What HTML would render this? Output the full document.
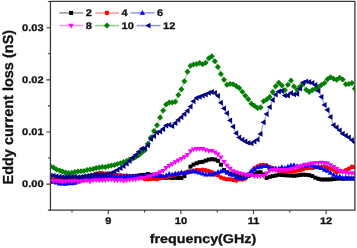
<!DOCTYPE html>
<html><head><meta charset="utf-8"><title>Eddy current loss</title>
<style>html,body{margin:0;padding:0;background:#fff}body{width:357px;height:248px;overflow:hidden}text{text-rendering:geometricPrecision;stroke:#111;stroke-width:.3px;stroke-linejoin:round}</style>
</head><body>
<svg width="357" height="248" viewBox="0 0 357 248" style="display:block;filter:blur(0.35px)" font-family="Liberation Sans, Arial, sans-serif" font-weight="bold">
<rect width="357" height="248" fill="#fff"/>
<defs><clipPath id="c"><rect x="50.45" y="1.45" width="304.45" height="208.65"/></clipPath></defs>
<g clip-path="url(#c)">
<polyline points="50.5,180.3 53.5,179.8 56.5,179.8 59.6,179.7 62.6,179.5 65.7,179.5 68.7,179.4 71.8,179.0 74.8,179.3 77.9,179.2 80.9,178.9 83.9,178.8 87.0,178.8 90.0,178.6 93.1,178.5 96.1,178.2 99.2,178.4 102.2,178.2 105.3,178.1 108.3,177.7 111.3,178.0 114.4,177.7 117.4,177.4 120.5,177.6 123.5,177.2 126.6,176.8 129.6,176.9 132.7,176.2 135.7,176.2 138.7,175.5 141.8,175.0 144.8,174.8 147.9,174.1 150.9,174.8 154.0,174.7 157.0,175.3 160.1,176.1 163.1,177.7 166.1,177.8 169.2,177.6 172.2,177.9 175.3,177.8 178.3,178.0 181.4,177.9 184.4,176.1 187.5,172.1 190.5,166.6 193.5,164.6 196.6,163.2 199.6,162.2 202.7,161.8 205.7,160.6 208.8,159.6 211.8,159.2 214.9,159.5 217.9,160.8 220.9,164.7 224.0,170.1 227.0,172.3 230.1,173.5 233.1,174.2 236.2,174.8 239.2,175.8 242.3,176.5 245.3,176.5 248.3,176.0 251.4,174.6 254.4,173.5 257.5,172.5 260.5,172.2 263.6,174.4 266.6,177.9 269.7,176.8 272.7,176.1 275.7,175.5 278.8,174.8 281.8,175.0 284.9,175.2 287.9,175.4 291.0,175.6 294.0,175.8 297.1,175.4 300.1,175.0 303.1,174.7 306.2,174.8 309.2,175.2 312.3,176.1 315.3,177.7 318.4,178.8 321.4,179.5 324.5,179.5 327.5,179.5 330.5,179.4 333.6,179.1 336.6,178.7 339.7,178.5 342.7,178.8 345.8,178.6 348.8,178.5 351.9,178.6 354.9,178.7" fill="none" stroke="#000000" stroke-width="1.2" stroke-opacity="0.36"/>
<g><rect x="48.5" y="178.3" width="4.0" height="4.0" fill="#000000"/><rect x="51.5" y="177.8" width="4.0" height="4.0" fill="#000000"/><rect x="54.5" y="177.8" width="4.0" height="4.0" fill="#000000"/><rect x="57.6" y="177.7" width="4.0" height="4.0" fill="#000000"/><rect x="60.6" y="177.5" width="4.0" height="4.0" fill="#000000"/><rect x="63.7" y="177.5" width="4.0" height="4.0" fill="#000000"/><rect x="66.7" y="177.4" width="4.0" height="4.0" fill="#000000"/><rect x="69.8" y="177.0" width="4.0" height="4.0" fill="#000000"/><rect x="72.8" y="177.3" width="4.0" height="4.0" fill="#000000"/><rect x="75.9" y="177.2" width="4.0" height="4.0" fill="#000000"/><rect x="78.9" y="176.9" width="4.0" height="4.0" fill="#000000"/><rect x="81.9" y="176.8" width="4.0" height="4.0" fill="#000000"/><rect x="85.0" y="176.8" width="4.0" height="4.0" fill="#000000"/><rect x="88.0" y="176.6" width="4.0" height="4.0" fill="#000000"/><rect x="91.1" y="176.5" width="4.0" height="4.0" fill="#000000"/><rect x="94.1" y="176.2" width="4.0" height="4.0" fill="#000000"/><rect x="97.2" y="176.4" width="4.0" height="4.0" fill="#000000"/><rect x="100.2" y="176.2" width="4.0" height="4.0" fill="#000000"/><rect x="103.3" y="176.1" width="4.0" height="4.0" fill="#000000"/><rect x="106.3" y="175.7" width="4.0" height="4.0" fill="#000000"/><rect x="109.3" y="176.0" width="4.0" height="4.0" fill="#000000"/><rect x="112.4" y="175.7" width="4.0" height="4.0" fill="#000000"/><rect x="115.4" y="175.4" width="4.0" height="4.0" fill="#000000"/><rect x="118.5" y="175.6" width="4.0" height="4.0" fill="#000000"/><rect x="121.5" y="175.2" width="4.0" height="4.0" fill="#000000"/><rect x="124.6" y="174.8" width="4.0" height="4.0" fill="#000000"/><rect x="127.6" y="174.9" width="4.0" height="4.0" fill="#000000"/><rect x="130.7" y="174.2" width="4.0" height="4.0" fill="#000000"/><rect x="133.7" y="174.2" width="4.0" height="4.0" fill="#000000"/><rect x="136.7" y="173.5" width="4.0" height="4.0" fill="#000000"/><rect x="139.8" y="173.0" width="4.0" height="4.0" fill="#000000"/><rect x="142.8" y="172.8" width="4.0" height="4.0" fill="#000000"/><rect x="145.9" y="172.1" width="4.0" height="4.0" fill="#000000"/><rect x="148.9" y="172.8" width="4.0" height="4.0" fill="#000000"/><rect x="152.0" y="172.7" width="4.0" height="4.0" fill="#000000"/><rect x="155.0" y="173.3" width="4.0" height="4.0" fill="#000000"/><rect x="158.1" y="174.1" width="4.0" height="4.0" fill="#000000"/><rect x="161.1" y="175.7" width="4.0" height="4.0" fill="#000000"/><rect x="164.1" y="175.8" width="4.0" height="4.0" fill="#000000"/><rect x="167.2" y="175.6" width="4.0" height="4.0" fill="#000000"/><rect x="170.2" y="175.9" width="4.0" height="4.0" fill="#000000"/><rect x="173.3" y="175.8" width="4.0" height="4.0" fill="#000000"/><rect x="176.3" y="176.0" width="4.0" height="4.0" fill="#000000"/><rect x="179.4" y="175.9" width="4.0" height="4.0" fill="#000000"/><rect x="182.4" y="174.1" width="4.0" height="4.0" fill="#000000"/><rect x="185.5" y="170.1" width="4.0" height="4.0" fill="#000000"/><rect x="188.5" y="164.6" width="4.0" height="4.0" fill="#000000"/><rect x="191.5" y="162.6" width="4.0" height="4.0" fill="#000000"/><rect x="194.6" y="161.2" width="4.0" height="4.0" fill="#000000"/><rect x="197.6" y="160.2" width="4.0" height="4.0" fill="#000000"/><rect x="200.7" y="159.8" width="4.0" height="4.0" fill="#000000"/><rect x="203.7" y="158.6" width="4.0" height="4.0" fill="#000000"/><rect x="206.8" y="157.6" width="4.0" height="4.0" fill="#000000"/><rect x="209.8" y="157.2" width="4.0" height="4.0" fill="#000000"/><rect x="212.9" y="157.5" width="4.0" height="4.0" fill="#000000"/><rect x="215.9" y="158.8" width="4.0" height="4.0" fill="#000000"/><rect x="218.9" y="162.7" width="4.0" height="4.0" fill="#000000"/><rect x="222.0" y="168.1" width="4.0" height="4.0" fill="#000000"/><rect x="225.0" y="170.3" width="4.0" height="4.0" fill="#000000"/><rect x="228.1" y="171.5" width="4.0" height="4.0" fill="#000000"/><rect x="231.1" y="172.2" width="4.0" height="4.0" fill="#000000"/><rect x="234.2" y="172.8" width="4.0" height="4.0" fill="#000000"/><rect x="237.2" y="173.8" width="4.0" height="4.0" fill="#000000"/><rect x="240.3" y="174.5" width="4.0" height="4.0" fill="#000000"/><rect x="243.3" y="174.5" width="4.0" height="4.0" fill="#000000"/><rect x="246.3" y="174.0" width="4.0" height="4.0" fill="#000000"/><rect x="249.4" y="172.6" width="4.0" height="4.0" fill="#000000"/><rect x="252.4" y="171.5" width="4.0" height="4.0" fill="#000000"/><rect x="255.5" y="170.5" width="4.0" height="4.0" fill="#000000"/><rect x="258.5" y="170.2" width="4.0" height="4.0" fill="#000000"/><rect x="261.6" y="172.4" width="4.0" height="4.0" fill="#000000"/><rect x="264.6" y="175.9" width="4.0" height="4.0" fill="#000000"/><rect x="267.7" y="174.8" width="4.0" height="4.0" fill="#000000"/><rect x="270.7" y="174.1" width="4.0" height="4.0" fill="#000000"/><rect x="273.7" y="173.5" width="4.0" height="4.0" fill="#000000"/><rect x="276.8" y="172.8" width="4.0" height="4.0" fill="#000000"/><rect x="279.8" y="173.0" width="4.0" height="4.0" fill="#000000"/><rect x="282.9" y="173.2" width="4.0" height="4.0" fill="#000000"/><rect x="285.9" y="173.4" width="4.0" height="4.0" fill="#000000"/><rect x="289.0" y="173.6" width="4.0" height="4.0" fill="#000000"/><rect x="292.0" y="173.8" width="4.0" height="4.0" fill="#000000"/><rect x="295.1" y="173.4" width="4.0" height="4.0" fill="#000000"/><rect x="298.1" y="173.0" width="4.0" height="4.0" fill="#000000"/><rect x="301.1" y="172.7" width="4.0" height="4.0" fill="#000000"/><rect x="304.2" y="172.8" width="4.0" height="4.0" fill="#000000"/><rect x="307.2" y="173.2" width="4.0" height="4.0" fill="#000000"/><rect x="310.3" y="174.1" width="4.0" height="4.0" fill="#000000"/><rect x="313.3" y="175.7" width="4.0" height="4.0" fill="#000000"/><rect x="316.4" y="176.8" width="4.0" height="4.0" fill="#000000"/><rect x="319.4" y="177.5" width="4.0" height="4.0" fill="#000000"/><rect x="322.5" y="177.5" width="4.0" height="4.0" fill="#000000"/><rect x="325.5" y="177.5" width="4.0" height="4.0" fill="#000000"/><rect x="328.5" y="177.4" width="4.0" height="4.0" fill="#000000"/><rect x="331.6" y="177.1" width="4.0" height="4.0" fill="#000000"/><rect x="334.6" y="176.7" width="4.0" height="4.0" fill="#000000"/><rect x="337.7" y="176.5" width="4.0" height="4.0" fill="#000000"/><rect x="340.7" y="176.8" width="4.0" height="4.0" fill="#000000"/><rect x="343.8" y="176.6" width="4.0" height="4.0" fill="#000000"/><rect x="346.8" y="176.5" width="4.0" height="4.0" fill="#000000"/><rect x="349.9" y="176.6" width="4.0" height="4.0" fill="#000000"/><rect x="352.9" y="176.7" width="4.0" height="4.0" fill="#000000"/></g>
<polyline points="50.5,180.6 53.5,180.6 56.5,180.1 59.6,180.6 62.6,180.3 65.7,182.6 68.7,180.5 71.8,180.9 74.8,180.1 77.9,180.1 80.9,180.2 83.9,180.3 87.0,179.2 90.0,177.1 93.1,175.8 96.1,173.7 99.2,173.4 102.2,173.2 105.3,173.8 108.3,173.5 111.3,174.2 114.4,175.2 117.4,175.2 120.5,175.3 123.5,175.7 126.6,175.8 129.6,176.3 132.7,176.8 135.7,176.8 138.7,176.7 141.8,177.9 144.8,179.1 147.9,179.3 150.9,179.0 154.0,178.8 157.0,179.1 160.1,178.2 163.1,177.4 166.1,177.2 169.2,176.0 172.2,175.7 175.3,174.7 178.3,173.9 181.4,173.3 184.4,173.0 187.5,172.4 190.5,171.6 193.5,171.1 196.6,170.1 199.6,170.4 202.7,169.8 205.7,170.4 208.8,171.1 211.8,172.2 214.9,174.4 217.9,175.2 220.9,177.5 224.0,178.6 227.0,179.3 230.1,179.2 233.1,179.9 236.2,180.4 239.2,179.2 242.3,179.5 245.3,178.4 248.3,174.6 251.4,171.8 254.4,168.2 257.5,166.5 260.5,165.2 263.6,165.1 266.6,165.6 269.7,167.2 272.7,168.3 275.7,169.5 278.8,170.6 281.8,171.0 284.9,170.7 287.9,171.7 291.0,171.4 294.0,171.2 297.1,170.6 300.1,170.3 303.1,169.3 306.2,168.2 309.2,167.8 312.3,168.0 315.3,167.3 318.4,167.3 321.4,167.0 324.5,166.6 327.5,167.9 330.5,168.8 333.6,169.8 336.6,172.2 339.7,171.3 342.7,171.5 345.8,170.4 348.8,168.7 351.9,166.9 354.9,167.2" fill="none" stroke="#ff0000" stroke-width="1.2" stroke-opacity="0.36"/>
<g><circle cx="50.5" cy="180.6" r="2.3" fill="#ff0000"/><circle cx="53.5" cy="180.6" r="2.3" fill="#ff0000"/><circle cx="56.5" cy="180.1" r="2.3" fill="#ff0000"/><circle cx="59.6" cy="180.6" r="2.3" fill="#ff0000"/><circle cx="62.6" cy="180.3" r="2.3" fill="#ff0000"/><circle cx="65.7" cy="182.6" r="2.3" fill="#ff0000"/><circle cx="68.7" cy="180.5" r="2.3" fill="#ff0000"/><circle cx="71.8" cy="180.9" r="2.3" fill="#ff0000"/><circle cx="74.8" cy="180.1" r="2.3" fill="#ff0000"/><circle cx="77.9" cy="180.1" r="2.3" fill="#ff0000"/><circle cx="80.9" cy="180.2" r="2.3" fill="#ff0000"/><circle cx="83.9" cy="180.3" r="2.3" fill="#ff0000"/><circle cx="87.0" cy="179.2" r="2.3" fill="#ff0000"/><circle cx="90.0" cy="177.1" r="2.3" fill="#ff0000"/><circle cx="93.1" cy="175.8" r="2.3" fill="#ff0000"/><circle cx="96.1" cy="173.7" r="2.3" fill="#ff0000"/><circle cx="99.2" cy="173.4" r="2.3" fill="#ff0000"/><circle cx="102.2" cy="173.2" r="2.3" fill="#ff0000"/><circle cx="105.3" cy="173.8" r="2.3" fill="#ff0000"/><circle cx="108.3" cy="173.5" r="2.3" fill="#ff0000"/><circle cx="111.3" cy="174.2" r="2.3" fill="#ff0000"/><circle cx="114.4" cy="175.2" r="2.3" fill="#ff0000"/><circle cx="117.4" cy="175.2" r="2.3" fill="#ff0000"/><circle cx="120.5" cy="175.3" r="2.3" fill="#ff0000"/><circle cx="123.5" cy="175.7" r="2.3" fill="#ff0000"/><circle cx="126.6" cy="175.8" r="2.3" fill="#ff0000"/><circle cx="129.6" cy="176.3" r="2.3" fill="#ff0000"/><circle cx="132.7" cy="176.8" r="2.3" fill="#ff0000"/><circle cx="135.7" cy="176.8" r="2.3" fill="#ff0000"/><circle cx="138.7" cy="176.7" r="2.3" fill="#ff0000"/><circle cx="141.8" cy="177.9" r="2.3" fill="#ff0000"/><circle cx="144.8" cy="179.1" r="2.3" fill="#ff0000"/><circle cx="147.9" cy="179.3" r="2.3" fill="#ff0000"/><circle cx="150.9" cy="179.0" r="2.3" fill="#ff0000"/><circle cx="154.0" cy="178.8" r="2.3" fill="#ff0000"/><circle cx="157.0" cy="179.1" r="2.3" fill="#ff0000"/><circle cx="160.1" cy="178.2" r="2.3" fill="#ff0000"/><circle cx="163.1" cy="177.4" r="2.3" fill="#ff0000"/><circle cx="166.1" cy="177.2" r="2.3" fill="#ff0000"/><circle cx="169.2" cy="176.0" r="2.3" fill="#ff0000"/><circle cx="172.2" cy="175.7" r="2.3" fill="#ff0000"/><circle cx="175.3" cy="174.7" r="2.3" fill="#ff0000"/><circle cx="178.3" cy="173.9" r="2.3" fill="#ff0000"/><circle cx="181.4" cy="173.3" r="2.3" fill="#ff0000"/><circle cx="184.4" cy="173.0" r="2.3" fill="#ff0000"/><circle cx="187.5" cy="172.4" r="2.3" fill="#ff0000"/><circle cx="190.5" cy="171.6" r="2.3" fill="#ff0000"/><circle cx="193.5" cy="171.1" r="2.3" fill="#ff0000"/><circle cx="196.6" cy="170.1" r="2.3" fill="#ff0000"/><circle cx="199.6" cy="170.4" r="2.3" fill="#ff0000"/><circle cx="202.7" cy="169.8" r="2.3" fill="#ff0000"/><circle cx="205.7" cy="170.4" r="2.3" fill="#ff0000"/><circle cx="208.8" cy="171.1" r="2.3" fill="#ff0000"/><circle cx="211.8" cy="172.2" r="2.3" fill="#ff0000"/><circle cx="214.9" cy="174.4" r="2.3" fill="#ff0000"/><circle cx="217.9" cy="175.2" r="2.3" fill="#ff0000"/><circle cx="220.9" cy="177.5" r="2.3" fill="#ff0000"/><circle cx="224.0" cy="178.6" r="2.3" fill="#ff0000"/><circle cx="227.0" cy="179.3" r="2.3" fill="#ff0000"/><circle cx="230.1" cy="179.2" r="2.3" fill="#ff0000"/><circle cx="233.1" cy="179.9" r="2.3" fill="#ff0000"/><circle cx="236.2" cy="180.4" r="2.3" fill="#ff0000"/><circle cx="239.2" cy="179.2" r="2.3" fill="#ff0000"/><circle cx="242.3" cy="179.5" r="2.3" fill="#ff0000"/><circle cx="245.3" cy="178.4" r="2.3" fill="#ff0000"/><circle cx="248.3" cy="174.6" r="2.3" fill="#ff0000"/><circle cx="251.4" cy="171.8" r="2.3" fill="#ff0000"/><circle cx="254.4" cy="168.2" r="2.3" fill="#ff0000"/><circle cx="257.5" cy="166.5" r="2.3" fill="#ff0000"/><circle cx="260.5" cy="165.2" r="2.3" fill="#ff0000"/><circle cx="263.6" cy="165.1" r="2.3" fill="#ff0000"/><circle cx="266.6" cy="165.6" r="2.3" fill="#ff0000"/><circle cx="269.7" cy="167.2" r="2.3" fill="#ff0000"/><circle cx="272.7" cy="168.3" r="2.3" fill="#ff0000"/><circle cx="275.7" cy="169.5" r="2.3" fill="#ff0000"/><circle cx="278.8" cy="170.6" r="2.3" fill="#ff0000"/><circle cx="281.8" cy="171.0" r="2.3" fill="#ff0000"/><circle cx="284.9" cy="170.7" r="2.3" fill="#ff0000"/><circle cx="287.9" cy="171.7" r="2.3" fill="#ff0000"/><circle cx="291.0" cy="171.4" r="2.3" fill="#ff0000"/><circle cx="294.0" cy="171.2" r="2.3" fill="#ff0000"/><circle cx="297.1" cy="170.6" r="2.3" fill="#ff0000"/><circle cx="300.1" cy="170.3" r="2.3" fill="#ff0000"/><circle cx="303.1" cy="169.3" r="2.3" fill="#ff0000"/><circle cx="306.2" cy="168.2" r="2.3" fill="#ff0000"/><circle cx="309.2" cy="167.8" r="2.3" fill="#ff0000"/><circle cx="312.3" cy="168.0" r="2.3" fill="#ff0000"/><circle cx="315.3" cy="167.3" r="2.3" fill="#ff0000"/><circle cx="318.4" cy="167.3" r="2.3" fill="#ff0000"/><circle cx="321.4" cy="167.0" r="2.3" fill="#ff0000"/><circle cx="324.5" cy="166.6" r="2.3" fill="#ff0000"/><circle cx="327.5" cy="167.9" r="2.3" fill="#ff0000"/><circle cx="330.5" cy="168.8" r="2.3" fill="#ff0000"/><circle cx="333.6" cy="169.8" r="2.3" fill="#ff0000"/><circle cx="336.6" cy="172.2" r="2.3" fill="#ff0000"/><circle cx="339.7" cy="171.3" r="2.3" fill="#ff0000"/><circle cx="342.7" cy="171.5" r="2.3" fill="#ff0000"/><circle cx="345.8" cy="170.4" r="2.3" fill="#ff0000"/><circle cx="348.8" cy="168.7" r="2.3" fill="#ff0000"/><circle cx="351.9" cy="166.9" r="2.3" fill="#ff0000"/><circle cx="354.9" cy="167.2" r="2.3" fill="#ff0000"/></g>
<polyline points="50.5,181.4 53.5,181.9 56.5,182.8 59.6,183.8 62.6,183.6 65.7,183.9 68.7,183.3 71.8,183.4 74.8,183.0 77.9,181.7 80.9,180.4 83.9,179.2 87.0,179.3 90.0,178.5 93.1,178.3 96.1,178.3 99.2,177.9 102.2,178.0 105.3,177.6 108.3,178.1 111.3,177.0 114.4,176.8 117.4,176.2 120.5,176.4 123.5,176.6 126.6,176.0 129.6,176.3 132.7,176.6 135.7,176.2 138.7,176.1 141.8,176.5 144.8,175.9 147.9,175.8 150.9,176.3 154.0,176.5 157.0,176.0 160.1,176.1 163.1,176.4 166.1,175.6 169.2,173.9 172.2,174.7 175.3,173.7 178.3,173.7 181.4,172.5 184.4,173.2 187.5,171.9 190.5,171.8 193.5,171.2 196.6,172.0 199.6,172.8 202.7,173.6 205.7,174.6 208.8,174.4 211.8,174.6 214.9,173.4 217.9,172.1 220.9,171.4 224.0,170.9 227.0,172.7 230.1,174.4 233.1,174.9 236.2,177.3 239.2,178.5 242.3,178.4 245.3,177.1 248.3,174.4 251.4,171.1 254.4,169.3 257.5,167.4 260.5,167.0 263.6,166.1 266.6,166.1 269.7,167.4 272.7,168.6 275.7,168.4 278.8,168.6 281.8,167.2 284.9,168.1 287.9,166.8 291.0,165.6 294.0,165.2 297.1,166.2 300.1,166.6 303.1,165.6 306.2,165.7 309.2,165.0 312.3,165.2 315.3,166.7 318.4,167.2 321.4,168.2 324.5,170.0 327.5,170.9 330.5,173.0 333.6,174.9 336.6,176.4 339.7,176.5 342.7,178.0 345.8,177.6 348.8,178.4 351.9,178.4 354.9,177.8" fill="none" stroke="#0000ff" stroke-width="1.2" stroke-opacity="0.36"/>
<g><path d="M47.8 183.2L53.2 183.2L50.5 178.4Z" fill="#0000ff"/><path d="M50.8 183.7L56.2 183.7L53.5 178.9Z" fill="#0000ff"/><path d="M53.8 184.6L59.2 184.6L56.5 179.8Z" fill="#0000ff"/><path d="M56.9 185.6L62.3 185.6L59.6 180.8Z" fill="#0000ff"/><path d="M59.9 185.4L65.3 185.4L62.6 180.6Z" fill="#0000ff"/><path d="M63.0 185.7L68.4 185.7L65.7 180.9Z" fill="#0000ff"/><path d="M66.0 185.1L71.4 185.1L68.7 180.3Z" fill="#0000ff"/><path d="M69.1 185.2L74.5 185.2L71.8 180.4Z" fill="#0000ff"/><path d="M72.1 184.8L77.5 184.8L74.8 180.0Z" fill="#0000ff"/><path d="M75.2 183.5L80.6 183.5L77.9 178.7Z" fill="#0000ff"/><path d="M78.2 182.2L83.6 182.2L80.9 177.4Z" fill="#0000ff"/><path d="M81.2 181.0L86.6 181.0L83.9 176.2Z" fill="#0000ff"/><path d="M84.3 181.1L89.7 181.1L87.0 176.3Z" fill="#0000ff"/><path d="M87.3 180.3L92.7 180.3L90.0 175.5Z" fill="#0000ff"/><path d="M90.4 180.1L95.8 180.1L93.1 175.3Z" fill="#0000ff"/><path d="M93.4 180.1L98.8 180.1L96.1 175.3Z" fill="#0000ff"/><path d="M96.5 179.7L101.9 179.7L99.2 174.9Z" fill="#0000ff"/><path d="M99.5 179.8L104.9 179.8L102.2 175.0Z" fill="#0000ff"/><path d="M102.6 179.4L108.0 179.4L105.3 174.6Z" fill="#0000ff"/><path d="M105.6 179.9L111.0 179.9L108.3 175.1Z" fill="#0000ff"/><path d="M108.6 178.8L114.0 178.8L111.3 174.0Z" fill="#0000ff"/><path d="M111.7 178.6L117.1 178.6L114.4 173.8Z" fill="#0000ff"/><path d="M114.7 178.0L120.1 178.0L117.4 173.2Z" fill="#0000ff"/><path d="M117.8 178.2L123.2 178.2L120.5 173.4Z" fill="#0000ff"/><path d="M120.8 178.4L126.2 178.4L123.5 173.6Z" fill="#0000ff"/><path d="M123.9 177.8L129.3 177.8L126.6 173.0Z" fill="#0000ff"/><path d="M126.9 178.1L132.3 178.1L129.6 173.3Z" fill="#0000ff"/><path d="M130.0 178.4L135.4 178.4L132.7 173.6Z" fill="#0000ff"/><path d="M133.0 178.0L138.4 178.0L135.7 173.2Z" fill="#0000ff"/><path d="M136.0 177.9L141.4 177.9L138.7 173.1Z" fill="#0000ff"/><path d="M139.1 178.3L144.5 178.3L141.8 173.5Z" fill="#0000ff"/><path d="M142.1 177.7L147.5 177.7L144.8 172.9Z" fill="#0000ff"/><path d="M145.2 177.6L150.6 177.6L147.9 172.8Z" fill="#0000ff"/><path d="M148.2 178.1L153.6 178.1L150.9 173.3Z" fill="#0000ff"/><path d="M151.3 178.3L156.7 178.3L154.0 173.5Z" fill="#0000ff"/><path d="M154.3 177.8L159.7 177.8L157.0 173.0Z" fill="#0000ff"/><path d="M157.4 177.9L162.8 177.9L160.1 173.1Z" fill="#0000ff"/><path d="M160.4 178.2L165.8 178.2L163.1 173.4Z" fill="#0000ff"/><path d="M163.4 177.4L168.8 177.4L166.1 172.6Z" fill="#0000ff"/><path d="M166.5 175.7L171.9 175.7L169.2 170.9Z" fill="#0000ff"/><path d="M169.5 176.5L174.9 176.5L172.2 171.7Z" fill="#0000ff"/><path d="M172.6 175.5L178.0 175.5L175.3 170.7Z" fill="#0000ff"/><path d="M175.6 175.5L181.0 175.5L178.3 170.7Z" fill="#0000ff"/><path d="M178.7 174.3L184.1 174.3L181.4 169.5Z" fill="#0000ff"/><path d="M181.7 175.0L187.1 175.0L184.4 170.2Z" fill="#0000ff"/><path d="M184.8 173.7L190.2 173.7L187.5 168.9Z" fill="#0000ff"/><path d="M187.8 173.6L193.2 173.6L190.5 168.8Z" fill="#0000ff"/><path d="M190.8 173.0L196.2 173.0L193.5 168.2Z" fill="#0000ff"/><path d="M193.9 173.8L199.3 173.8L196.6 169.0Z" fill="#0000ff"/><path d="M196.9 174.6L202.3 174.6L199.6 169.8Z" fill="#0000ff"/><path d="M200.0 175.4L205.4 175.4L202.7 170.6Z" fill="#0000ff"/><path d="M203.0 176.4L208.4 176.4L205.7 171.6Z" fill="#0000ff"/><path d="M206.1 176.2L211.5 176.2L208.8 171.4Z" fill="#0000ff"/><path d="M209.1 176.4L214.5 176.4L211.8 171.6Z" fill="#0000ff"/><path d="M212.2 175.2L217.6 175.2L214.9 170.4Z" fill="#0000ff"/><path d="M215.2 173.9L220.6 173.9L217.9 169.1Z" fill="#0000ff"/><path d="M218.2 173.2L223.6 173.2L220.9 168.4Z" fill="#0000ff"/><path d="M221.3 172.7L226.7 172.7L224.0 167.9Z" fill="#0000ff"/><path d="M224.3 174.5L229.7 174.5L227.0 169.7Z" fill="#0000ff"/><path d="M227.4 176.2L232.8 176.2L230.1 171.4Z" fill="#0000ff"/><path d="M230.4 176.7L235.8 176.7L233.1 171.9Z" fill="#0000ff"/><path d="M233.5 179.1L238.9 179.1L236.2 174.3Z" fill="#0000ff"/><path d="M236.5 180.3L241.9 180.3L239.2 175.5Z" fill="#0000ff"/><path d="M239.6 180.2L245.0 180.2L242.3 175.4Z" fill="#0000ff"/><path d="M242.6 178.9L248.0 178.9L245.3 174.1Z" fill="#0000ff"/><path d="M245.6 176.2L251.0 176.2L248.3 171.4Z" fill="#0000ff"/><path d="M248.7 172.9L254.1 172.9L251.4 168.1Z" fill="#0000ff"/><path d="M251.7 171.1L257.1 171.1L254.4 166.3Z" fill="#0000ff"/><path d="M254.8 169.2L260.2 169.2L257.5 164.4Z" fill="#0000ff"/><path d="M257.8 168.8L263.2 168.8L260.5 164.0Z" fill="#0000ff"/><path d="M260.9 167.9L266.3 167.9L263.6 163.1Z" fill="#0000ff"/><path d="M263.9 167.9L269.3 167.9L266.6 163.1Z" fill="#0000ff"/><path d="M267.0 169.2L272.4 169.2L269.7 164.4Z" fill="#0000ff"/><path d="M270.0 170.4L275.4 170.4L272.7 165.6Z" fill="#0000ff"/><path d="M273.0 170.2L278.4 170.2L275.7 165.4Z" fill="#0000ff"/><path d="M276.1 170.4L281.5 170.4L278.8 165.6Z" fill="#0000ff"/><path d="M279.1 169.0L284.5 169.0L281.8 164.2Z" fill="#0000ff"/><path d="M282.2 169.9L287.6 169.9L284.9 165.1Z" fill="#0000ff"/><path d="M285.2 168.6L290.6 168.6L287.9 163.8Z" fill="#0000ff"/><path d="M288.3 167.4L293.7 167.4L291.0 162.6Z" fill="#0000ff"/><path d="M291.3 167.0L296.7 167.0L294.0 162.2Z" fill="#0000ff"/><path d="M294.4 168.0L299.8 168.0L297.1 163.2Z" fill="#0000ff"/><path d="M297.4 168.4L302.8 168.4L300.1 163.6Z" fill="#0000ff"/><path d="M300.4 167.4L305.8 167.4L303.1 162.6Z" fill="#0000ff"/><path d="M303.5 167.5L308.9 167.5L306.2 162.7Z" fill="#0000ff"/><path d="M306.5 166.8L311.9 166.8L309.2 162.0Z" fill="#0000ff"/><path d="M309.6 167.0L315.0 167.0L312.3 162.2Z" fill="#0000ff"/><path d="M312.6 168.5L318.0 168.5L315.3 163.7Z" fill="#0000ff"/><path d="M315.7 169.0L321.1 169.0L318.4 164.2Z" fill="#0000ff"/><path d="M318.7 170.0L324.1 170.0L321.4 165.2Z" fill="#0000ff"/><path d="M321.8 171.8L327.2 171.8L324.5 167.0Z" fill="#0000ff"/><path d="M324.8 172.7L330.2 172.7L327.5 167.9Z" fill="#0000ff"/><path d="M327.8 174.8L333.2 174.8L330.5 170.0Z" fill="#0000ff"/><path d="M330.9 176.7L336.3 176.7L333.6 171.9Z" fill="#0000ff"/><path d="M333.9 178.2L339.3 178.2L336.6 173.4Z" fill="#0000ff"/><path d="M337.0 178.3L342.4 178.3L339.7 173.5Z" fill="#0000ff"/><path d="M340.0 179.8L345.4 179.8L342.7 175.0Z" fill="#0000ff"/><path d="M343.1 179.4L348.5 179.4L345.8 174.6Z" fill="#0000ff"/><path d="M346.1 180.2L351.5 180.2L348.8 175.4Z" fill="#0000ff"/><path d="M349.2 180.2L354.6 180.2L351.9 175.4Z" fill="#0000ff"/><path d="M352.2 179.6L357.6 179.6L354.9 174.8Z" fill="#0000ff"/></g>
<polyline points="50.5,180.6 53.5,181.0 56.5,180.8 59.6,181.0 62.6,181.7 65.7,181.0 68.7,180.8 71.8,181.0 74.8,180.7 77.9,181.4 80.9,180.9 83.9,180.5 87.0,180.4 90.0,181.4 93.1,180.2 96.1,180.1 99.2,180.3 102.2,180.2 105.3,179.9 108.3,179.5 111.3,179.6 114.4,180.3 117.4,180.2 120.5,179.9 123.5,180.7 126.6,180.3 129.6,179.7 132.7,179.4 135.7,179.2 138.7,178.6 141.8,177.8 144.8,177.7 147.9,176.5 150.9,176.1 154.0,174.6 157.0,173.7 160.1,172.0 163.1,170.7 166.1,167.9 169.2,165.8 172.2,164.1 175.3,162.0 178.3,160.3 181.4,158.7 184.4,157.0 187.5,154.7 190.5,151.0 193.5,149.3 196.6,148.9 199.6,148.8 202.7,148.7 205.7,150.1 208.8,150.7 211.8,150.7 214.9,152.2 217.9,154.2 220.9,157.3 224.0,161.8 227.0,165.6 230.1,168.5 233.1,171.0 236.2,172.2 239.2,173.1 242.3,174.0 245.3,174.6 248.3,174.7 251.4,174.8 254.4,176.2 257.5,175.9 260.5,176.1 263.6,175.7 266.6,173.3 269.7,170.8 272.7,169.9 275.7,170.1 278.8,169.9 281.8,170.2 284.9,170.1 287.9,169.7 291.0,169.1 294.0,168.3 297.1,166.9 300.1,166.3 303.1,165.5 306.2,164.6 309.2,164.0 312.3,163.2 315.3,162.8 318.4,162.8 321.4,162.5 324.5,162.9 327.5,163.4 330.5,165.1 333.6,166.7 336.6,168.8 339.7,170.6 342.7,171.8 345.8,172.5 348.8,173.3 351.9,173.1 354.9,174.1" fill="none" stroke="#ff00ff" stroke-width="1.2" stroke-opacity="0.36"/>
<g><path d="M47.8 178.8L53.2 178.8L50.5 183.6Z" fill="#ff00ff"/><path d="M50.8 179.2L56.2 179.2L53.5 184.0Z" fill="#ff00ff"/><path d="M53.8 179.0L59.2 179.0L56.5 183.8Z" fill="#ff00ff"/><path d="M56.9 179.2L62.3 179.2L59.6 184.0Z" fill="#ff00ff"/><path d="M59.9 179.9L65.3 179.9L62.6 184.7Z" fill="#ff00ff"/><path d="M63.0 179.2L68.4 179.2L65.7 184.0Z" fill="#ff00ff"/><path d="M66.0 179.0L71.4 179.0L68.7 183.8Z" fill="#ff00ff"/><path d="M69.1 179.2L74.5 179.2L71.8 184.0Z" fill="#ff00ff"/><path d="M72.1 178.9L77.5 178.9L74.8 183.7Z" fill="#ff00ff"/><path d="M75.2 179.6L80.6 179.6L77.9 184.4Z" fill="#ff00ff"/><path d="M78.2 179.1L83.6 179.1L80.9 183.9Z" fill="#ff00ff"/><path d="M81.2 178.7L86.6 178.7L83.9 183.5Z" fill="#ff00ff"/><path d="M84.3 178.6L89.7 178.6L87.0 183.4Z" fill="#ff00ff"/><path d="M87.3 179.6L92.7 179.6L90.0 184.4Z" fill="#ff00ff"/><path d="M90.4 178.4L95.8 178.4L93.1 183.2Z" fill="#ff00ff"/><path d="M93.4 178.3L98.8 178.3L96.1 183.1Z" fill="#ff00ff"/><path d="M96.5 178.5L101.9 178.5L99.2 183.3Z" fill="#ff00ff"/><path d="M99.5 178.4L104.9 178.4L102.2 183.2Z" fill="#ff00ff"/><path d="M102.6 178.1L108.0 178.1L105.3 182.9Z" fill="#ff00ff"/><path d="M105.6 177.7L111.0 177.7L108.3 182.5Z" fill="#ff00ff"/><path d="M108.6 177.8L114.0 177.8L111.3 182.6Z" fill="#ff00ff"/><path d="M111.7 178.5L117.1 178.5L114.4 183.3Z" fill="#ff00ff"/><path d="M114.7 178.4L120.1 178.4L117.4 183.2Z" fill="#ff00ff"/><path d="M117.8 178.1L123.2 178.1L120.5 182.9Z" fill="#ff00ff"/><path d="M120.8 178.9L126.2 178.9L123.5 183.7Z" fill="#ff00ff"/><path d="M123.9 178.5L129.3 178.5L126.6 183.3Z" fill="#ff00ff"/><path d="M126.9 177.9L132.3 177.9L129.6 182.7Z" fill="#ff00ff"/><path d="M130.0 177.6L135.4 177.6L132.7 182.4Z" fill="#ff00ff"/><path d="M133.0 177.4L138.4 177.4L135.7 182.2Z" fill="#ff00ff"/><path d="M136.0 176.8L141.4 176.8L138.7 181.6Z" fill="#ff00ff"/><path d="M139.1 176.0L144.5 176.0L141.8 180.8Z" fill="#ff00ff"/><path d="M142.1 175.9L147.5 175.9L144.8 180.7Z" fill="#ff00ff"/><path d="M145.2 174.7L150.6 174.7L147.9 179.5Z" fill="#ff00ff"/><path d="M148.2 174.3L153.6 174.3L150.9 179.1Z" fill="#ff00ff"/><path d="M151.3 172.8L156.7 172.8L154.0 177.6Z" fill="#ff00ff"/><path d="M154.3 171.9L159.7 171.9L157.0 176.7Z" fill="#ff00ff"/><path d="M157.4 170.2L162.8 170.2L160.1 175.0Z" fill="#ff00ff"/><path d="M160.4 168.9L165.8 168.9L163.1 173.7Z" fill="#ff00ff"/><path d="M163.4 166.1L168.8 166.1L166.1 170.9Z" fill="#ff00ff"/><path d="M166.5 164.0L171.9 164.0L169.2 168.8Z" fill="#ff00ff"/><path d="M169.5 162.3L174.9 162.3L172.2 167.1Z" fill="#ff00ff"/><path d="M172.6 160.2L178.0 160.2L175.3 165.0Z" fill="#ff00ff"/><path d="M175.6 158.5L181.0 158.5L178.3 163.3Z" fill="#ff00ff"/><path d="M178.7 156.9L184.1 156.9L181.4 161.7Z" fill="#ff00ff"/><path d="M181.7 155.2L187.1 155.2L184.4 160.0Z" fill="#ff00ff"/><path d="M184.8 152.9L190.2 152.9L187.5 157.7Z" fill="#ff00ff"/><path d="M187.8 149.2L193.2 149.2L190.5 154.0Z" fill="#ff00ff"/><path d="M190.8 147.5L196.2 147.5L193.5 152.3Z" fill="#ff00ff"/><path d="M193.9 147.1L199.3 147.1L196.6 151.9Z" fill="#ff00ff"/><path d="M196.9 147.0L202.3 147.0L199.6 151.8Z" fill="#ff00ff"/><path d="M200.0 146.9L205.4 146.9L202.7 151.7Z" fill="#ff00ff"/><path d="M203.0 148.3L208.4 148.3L205.7 153.1Z" fill="#ff00ff"/><path d="M206.1 148.9L211.5 148.9L208.8 153.7Z" fill="#ff00ff"/><path d="M209.1 148.9L214.5 148.9L211.8 153.7Z" fill="#ff00ff"/><path d="M212.2 150.4L217.6 150.4L214.9 155.2Z" fill="#ff00ff"/><path d="M215.2 152.4L220.6 152.4L217.9 157.2Z" fill="#ff00ff"/><path d="M218.2 155.5L223.6 155.5L220.9 160.3Z" fill="#ff00ff"/><path d="M221.3 160.0L226.7 160.0L224.0 164.8Z" fill="#ff00ff"/><path d="M224.3 163.8L229.7 163.8L227.0 168.6Z" fill="#ff00ff"/><path d="M227.4 166.7L232.8 166.7L230.1 171.5Z" fill="#ff00ff"/><path d="M230.4 169.2L235.8 169.2L233.1 174.0Z" fill="#ff00ff"/><path d="M233.5 170.4L238.9 170.4L236.2 175.2Z" fill="#ff00ff"/><path d="M236.5 171.3L241.9 171.3L239.2 176.1Z" fill="#ff00ff"/><path d="M239.6 172.2L245.0 172.2L242.3 177.0Z" fill="#ff00ff"/><path d="M242.6 172.8L248.0 172.8L245.3 177.6Z" fill="#ff00ff"/><path d="M245.6 172.9L251.0 172.9L248.3 177.7Z" fill="#ff00ff"/><path d="M248.7 173.0L254.1 173.0L251.4 177.8Z" fill="#ff00ff"/><path d="M251.7 174.4L257.1 174.4L254.4 179.2Z" fill="#ff00ff"/><path d="M254.8 174.1L260.2 174.1L257.5 178.9Z" fill="#ff00ff"/><path d="M257.8 174.3L263.2 174.3L260.5 179.1Z" fill="#ff00ff"/><path d="M260.9 173.9L266.3 173.9L263.6 178.7Z" fill="#ff00ff"/><path d="M263.9 171.5L269.3 171.5L266.6 176.3Z" fill="#ff00ff"/><path d="M267.0 169.0L272.4 169.0L269.7 173.8Z" fill="#ff00ff"/><path d="M270.0 168.1L275.4 168.1L272.7 172.9Z" fill="#ff00ff"/><path d="M273.0 168.3L278.4 168.3L275.7 173.1Z" fill="#ff00ff"/><path d="M276.1 168.1L281.5 168.1L278.8 172.9Z" fill="#ff00ff"/><path d="M279.1 168.4L284.5 168.4L281.8 173.2Z" fill="#ff00ff"/><path d="M282.2 168.3L287.6 168.3L284.9 173.1Z" fill="#ff00ff"/><path d="M285.2 167.9L290.6 167.9L287.9 172.7Z" fill="#ff00ff"/><path d="M288.3 167.3L293.7 167.3L291.0 172.1Z" fill="#ff00ff"/><path d="M291.3 166.5L296.7 166.5L294.0 171.3Z" fill="#ff00ff"/><path d="M294.4 165.1L299.8 165.1L297.1 169.9Z" fill="#ff00ff"/><path d="M297.4 164.5L302.8 164.5L300.1 169.3Z" fill="#ff00ff"/><path d="M300.4 163.7L305.8 163.7L303.1 168.5Z" fill="#ff00ff"/><path d="M303.5 162.8L308.9 162.8L306.2 167.6Z" fill="#ff00ff"/><path d="M306.5 162.2L311.9 162.2L309.2 167.0Z" fill="#ff00ff"/><path d="M309.6 161.4L315.0 161.4L312.3 166.2Z" fill="#ff00ff"/><path d="M312.6 161.0L318.0 161.0L315.3 165.8Z" fill="#ff00ff"/><path d="M315.7 161.0L321.1 161.0L318.4 165.8Z" fill="#ff00ff"/><path d="M318.7 160.7L324.1 160.7L321.4 165.5Z" fill="#ff00ff"/><path d="M321.8 161.1L327.2 161.1L324.5 165.9Z" fill="#ff00ff"/><path d="M324.8 161.6L330.2 161.6L327.5 166.4Z" fill="#ff00ff"/><path d="M327.8 163.3L333.2 163.3L330.5 168.1Z" fill="#ff00ff"/><path d="M330.9 164.9L336.3 164.9L333.6 169.7Z" fill="#ff00ff"/><path d="M333.9 167.0L339.3 167.0L336.6 171.8Z" fill="#ff00ff"/><path d="M337.0 168.8L342.4 168.8L339.7 173.6Z" fill="#ff00ff"/><path d="M340.0 170.0L345.4 170.0L342.7 174.8Z" fill="#ff00ff"/><path d="M343.1 170.7L348.5 170.7L345.8 175.5Z" fill="#ff00ff"/><path d="M346.1 171.5L351.5 171.5L348.8 176.3Z" fill="#ff00ff"/><path d="M349.2 171.3L354.6 171.3L351.9 176.1Z" fill="#ff00ff"/><path d="M352.2 172.3L357.6 172.3L354.9 177.1Z" fill="#ff00ff"/></g>
<polyline points="50.5,166.6 53.5,167.4 56.5,169.4 59.6,170.4 62.6,171.6 65.7,172.5 68.7,172.9 71.8,172.7 74.8,172.1 77.9,171.5 80.9,171.3 83.9,170.9 87.0,170.1 90.0,169.5 93.1,169.0 96.1,167.9 99.2,167.6 102.2,167.1 105.3,166.9 108.3,166.3 111.3,165.6 114.4,165.0 117.4,163.9 120.5,163.2 123.5,162.1 126.6,161.1 129.6,159.6 132.7,158.4 135.7,157.0 138.7,155.2 141.8,152.5 144.8,150.3 147.9,143.8 150.9,137.4 154.0,130.9 157.0,125.2 160.1,117.5 163.1,110.5 166.1,104.6 169.2,102.5 172.2,102.6 175.3,101.7 178.3,95.1 181.4,89.2 184.4,81.2 187.5,71.7 190.5,65.7 193.5,64.5 196.6,63.9 199.6,63.1 202.7,64.2 205.7,62.8 208.8,58.2 211.8,56.3 214.9,61.3 217.9,67.0 220.9,73.9 224.0,79.8 227.0,84.7 230.1,84.1 233.1,84.2 236.2,85.9 239.2,88.1 242.3,91.7 245.3,95.7 248.3,99.2 251.4,103.8 254.4,105.7 257.5,107.9 260.5,107.4 263.6,101.3 266.6,99.6 269.7,97.1 272.7,92.0 275.7,86.2 278.8,82.7 281.8,85.4 284.9,90.2 287.9,84.7 291.0,80.5 294.0,86.6 297.1,89.8 300.1,86.5 303.1,83.9 306.2,89.8 309.2,91.9 312.3,90.0 315.3,88.7 318.4,87.1 321.4,85.1 324.5,82.9 327.5,79.3 330.5,77.3 333.6,78.8 336.6,79.8 339.7,77.8 342.7,79.5 345.8,84.2 348.8,84.0 351.9,83.1 354.9,88.8" fill="none" stroke="#007f00" stroke-width="1.2" stroke-opacity="0.36"/>
<g><path d="M47.5 166.6L50.5 163.6L53.5 166.6L50.5 169.6Z" fill="#007f00"/><path d="M50.5 167.4L53.5 164.4L56.5 167.4L53.5 170.4Z" fill="#007f00"/><path d="M53.5 169.4L56.5 166.4L59.5 169.4L56.5 172.4Z" fill="#007f00"/><path d="M56.6 170.4L59.6 167.4L62.6 170.4L59.6 173.4Z" fill="#007f00"/><path d="M59.6 171.6L62.6 168.6L65.6 171.6L62.6 174.6Z" fill="#007f00"/><path d="M62.7 172.5L65.7 169.5L68.7 172.5L65.7 175.5Z" fill="#007f00"/><path d="M65.7 172.9L68.7 169.9L71.7 172.9L68.7 175.9Z" fill="#007f00"/><path d="M68.8 172.7L71.8 169.7L74.8 172.7L71.8 175.7Z" fill="#007f00"/><path d="M71.8 172.1L74.8 169.1L77.8 172.1L74.8 175.1Z" fill="#007f00"/><path d="M74.9 171.5L77.9 168.5L80.9 171.5L77.9 174.5Z" fill="#007f00"/><path d="M77.9 171.3L80.9 168.3L83.9 171.3L80.9 174.3Z" fill="#007f00"/><path d="M80.9 170.9L83.9 167.9L86.9 170.9L83.9 173.9Z" fill="#007f00"/><path d="M84.0 170.1L87.0 167.1L90.0 170.1L87.0 173.1Z" fill="#007f00"/><path d="M87.0 169.5L90.0 166.5L93.0 169.5L90.0 172.5Z" fill="#007f00"/><path d="M90.1 169.0L93.1 166.0L96.1 169.0L93.1 172.0Z" fill="#007f00"/><path d="M93.1 167.9L96.1 164.9L99.1 167.9L96.1 170.9Z" fill="#007f00"/><path d="M96.2 167.6L99.2 164.6L102.2 167.6L99.2 170.6Z" fill="#007f00"/><path d="M99.2 167.1L102.2 164.1L105.2 167.1L102.2 170.1Z" fill="#007f00"/><path d="M102.3 166.9L105.3 163.9L108.3 166.9L105.3 169.9Z" fill="#007f00"/><path d="M105.3 166.3L108.3 163.3L111.3 166.3L108.3 169.3Z" fill="#007f00"/><path d="M108.3 165.6L111.3 162.6L114.3 165.6L111.3 168.6Z" fill="#007f00"/><path d="M111.4 165.0L114.4 162.0L117.4 165.0L114.4 168.0Z" fill="#007f00"/><path d="M114.4 163.9L117.4 160.9L120.4 163.9L117.4 166.9Z" fill="#007f00"/><path d="M117.5 163.2L120.5 160.2L123.5 163.2L120.5 166.2Z" fill="#007f00"/><path d="M120.5 162.1L123.5 159.1L126.5 162.1L123.5 165.1Z" fill="#007f00"/><path d="M123.6 161.1L126.6 158.1L129.6 161.1L126.6 164.1Z" fill="#007f00"/><path d="M126.6 159.6L129.6 156.6L132.6 159.6L129.6 162.6Z" fill="#007f00"/><path d="M129.7 158.4L132.7 155.4L135.7 158.4L132.7 161.4Z" fill="#007f00"/><path d="M132.7 157.0L135.7 154.0L138.7 157.0L135.7 160.0Z" fill="#007f00"/><path d="M135.7 155.2L138.7 152.2L141.7 155.2L138.7 158.2Z" fill="#007f00"/><path d="M138.8 152.5L141.8 149.5L144.8 152.5L141.8 155.5Z" fill="#007f00"/><path d="M141.8 150.3L144.8 147.3L147.8 150.3L144.8 153.3Z" fill="#007f00"/><path d="M144.9 143.8L147.9 140.8L150.9 143.8L147.9 146.8Z" fill="#007f00"/><path d="M147.9 137.4L150.9 134.4L153.9 137.4L150.9 140.4Z" fill="#007f00"/><path d="M151.0 130.9L154.0 127.9L157.0 130.9L154.0 133.9Z" fill="#007f00"/><path d="M154.0 125.2L157.0 122.2L160.0 125.2L157.0 128.2Z" fill="#007f00"/><path d="M157.1 117.5L160.1 114.5L163.1 117.5L160.1 120.5Z" fill="#007f00"/><path d="M160.1 110.5L163.1 107.5L166.1 110.5L163.1 113.5Z" fill="#007f00"/><path d="M163.1 104.6L166.1 101.6L169.1 104.6L166.1 107.6Z" fill="#007f00"/><path d="M166.2 102.5L169.2 99.5L172.2 102.5L169.2 105.5Z" fill="#007f00"/><path d="M169.2 102.6L172.2 99.6L175.2 102.6L172.2 105.6Z" fill="#007f00"/><path d="M172.3 101.7L175.3 98.7L178.3 101.7L175.3 104.7Z" fill="#007f00"/><path d="M175.3 95.1L178.3 92.1L181.3 95.1L178.3 98.1Z" fill="#007f00"/><path d="M178.4 89.2L181.4 86.2L184.4 89.2L181.4 92.2Z" fill="#007f00"/><path d="M181.4 81.2L184.4 78.2L187.4 81.2L184.4 84.2Z" fill="#007f00"/><path d="M184.5 71.7L187.5 68.7L190.5 71.7L187.5 74.7Z" fill="#007f00"/><path d="M187.5 65.7L190.5 62.7L193.5 65.7L190.5 68.7Z" fill="#007f00"/><path d="M190.5 64.5L193.5 61.5L196.5 64.5L193.5 67.5Z" fill="#007f00"/><path d="M193.6 63.9L196.6 60.9L199.6 63.9L196.6 66.9Z" fill="#007f00"/><path d="M196.6 63.1L199.6 60.1L202.6 63.1L199.6 66.1Z" fill="#007f00"/><path d="M199.7 64.2L202.7 61.2L205.7 64.2L202.7 67.2Z" fill="#007f00"/><path d="M202.7 62.8L205.7 59.8L208.7 62.8L205.7 65.8Z" fill="#007f00"/><path d="M205.8 58.2L208.8 55.2L211.8 58.2L208.8 61.2Z" fill="#007f00"/><path d="M208.8 56.3L211.8 53.3L214.8 56.3L211.8 59.3Z" fill="#007f00"/><path d="M211.9 61.3L214.9 58.3L217.9 61.3L214.9 64.3Z" fill="#007f00"/><path d="M214.9 67.0L217.9 64.0L220.9 67.0L217.9 70.0Z" fill="#007f00"/><path d="M217.9 73.9L220.9 70.9L223.9 73.9L220.9 76.9Z" fill="#007f00"/><path d="M221.0 79.8L224.0 76.8L227.0 79.8L224.0 82.8Z" fill="#007f00"/><path d="M224.0 84.7L227.0 81.7L230.0 84.7L227.0 87.7Z" fill="#007f00"/><path d="M227.1 84.1L230.1 81.1L233.1 84.1L230.1 87.1Z" fill="#007f00"/><path d="M230.1 84.2L233.1 81.2L236.1 84.2L233.1 87.2Z" fill="#007f00"/><path d="M233.2 85.9L236.2 82.9L239.2 85.9L236.2 88.9Z" fill="#007f00"/><path d="M236.2 88.1L239.2 85.1L242.2 88.1L239.2 91.1Z" fill="#007f00"/><path d="M239.3 91.7L242.3 88.7L245.3 91.7L242.3 94.7Z" fill="#007f00"/><path d="M242.3 95.7L245.3 92.7L248.3 95.7L245.3 98.7Z" fill="#007f00"/><path d="M245.3 99.2L248.3 96.2L251.3 99.2L248.3 102.2Z" fill="#007f00"/><path d="M248.4 103.8L251.4 100.8L254.4 103.8L251.4 106.8Z" fill="#007f00"/><path d="M251.4 105.7L254.4 102.7L257.4 105.7L254.4 108.7Z" fill="#007f00"/><path d="M254.5 107.9L257.5 104.9L260.5 107.9L257.5 110.9Z" fill="#007f00"/><path d="M257.5 107.4L260.5 104.4L263.5 107.4L260.5 110.4Z" fill="#007f00"/><path d="M260.6 101.3L263.6 98.3L266.6 101.3L263.6 104.3Z" fill="#007f00"/><path d="M263.6 99.6L266.6 96.6L269.6 99.6L266.6 102.6Z" fill="#007f00"/><path d="M266.7 97.1L269.7 94.1L272.7 97.1L269.7 100.1Z" fill="#007f00"/><path d="M269.7 92.0L272.7 89.0L275.7 92.0L272.7 95.0Z" fill="#007f00"/><path d="M272.7 86.2L275.7 83.2L278.7 86.2L275.7 89.2Z" fill="#007f00"/><path d="M275.8 82.7L278.8 79.7L281.8 82.7L278.8 85.7Z" fill="#007f00"/><path d="M278.8 85.4L281.8 82.4L284.8 85.4L281.8 88.4Z" fill="#007f00"/><path d="M281.9 90.2L284.9 87.2L287.9 90.2L284.9 93.2Z" fill="#007f00"/><path d="M284.9 84.7L287.9 81.7L290.9 84.7L287.9 87.7Z" fill="#007f00"/><path d="M288.0 80.5L291.0 77.5L294.0 80.5L291.0 83.5Z" fill="#007f00"/><path d="M291.0 86.6L294.0 83.6L297.0 86.6L294.0 89.6Z" fill="#007f00"/><path d="M294.1 89.8L297.1 86.8L300.1 89.8L297.1 92.8Z" fill="#007f00"/><path d="M297.1 86.5L300.1 83.5L303.1 86.5L300.1 89.5Z" fill="#007f00"/><path d="M300.1 83.9L303.1 80.9L306.1 83.9L303.1 86.9Z" fill="#007f00"/><path d="M303.2 89.8L306.2 86.8L309.2 89.8L306.2 92.8Z" fill="#007f00"/><path d="M306.2 91.9L309.2 88.9L312.2 91.9L309.2 94.9Z" fill="#007f00"/><path d="M309.3 90.0L312.3 87.0L315.3 90.0L312.3 93.0Z" fill="#007f00"/><path d="M312.3 88.7L315.3 85.7L318.3 88.7L315.3 91.7Z" fill="#007f00"/><path d="M315.4 87.1L318.4 84.1L321.4 87.1L318.4 90.1Z" fill="#007f00"/><path d="M318.4 85.1L321.4 82.1L324.4 85.1L321.4 88.1Z" fill="#007f00"/><path d="M321.5 82.9L324.5 79.9L327.5 82.9L324.5 85.9Z" fill="#007f00"/><path d="M324.5 79.3L327.5 76.3L330.5 79.3L327.5 82.3Z" fill="#007f00"/><path d="M327.5 77.3L330.5 74.3L333.5 77.3L330.5 80.3Z" fill="#007f00"/><path d="M330.6 78.8L333.6 75.8L336.6 78.8L333.6 81.8Z" fill="#007f00"/><path d="M333.6 79.8L336.6 76.8L339.6 79.8L336.6 82.8Z" fill="#007f00"/><path d="M336.7 77.8L339.7 74.8L342.7 77.8L339.7 80.8Z" fill="#007f00"/><path d="M339.7 79.5L342.7 76.5L345.7 79.5L342.7 82.5Z" fill="#007f00"/><path d="M342.8 84.2L345.8 81.2L348.8 84.2L345.8 87.2Z" fill="#007f00"/><path d="M345.8 84.0L348.8 81.0L351.8 84.0L348.8 87.0Z" fill="#007f00"/><path d="M348.9 83.1L351.9 80.1L354.9 83.1L351.9 86.1Z" fill="#007f00"/><path d="M351.9 88.8L354.9 85.8L357.9 88.8L354.9 91.8Z" fill="#007f00"/></g>
<polyline points="50.5,175.6 53.5,175.7 56.5,176.3 59.6,176.7 62.6,176.9 65.7,177.0 68.7,176.8 71.8,176.8 74.8,176.6 77.9,177.1 80.9,176.8 83.9,176.3 87.0,175.8 90.0,175.3 93.1,175.0 96.1,174.4 99.2,174.5 102.2,174.4 105.3,174.6 108.3,174.0 111.3,173.2 114.4,171.7 117.4,169.9 120.5,168.2 123.5,166.1 126.6,163.7 129.6,160.8 132.7,157.7 135.7,155.0 138.7,151.8 141.8,148.7 144.8,148.3 147.9,145.3 150.9,139.0 154.0,136.1 157.0,132.7 160.1,131.6 163.1,129.0 166.1,125.6 169.2,124.9 172.2,126.1 175.3,123.1 178.3,119.9 181.4,117.2 184.4,114.1 187.5,110.8 190.5,106.6 193.5,101.3 196.6,97.9 199.6,96.9 202.7,95.7 205.7,94.6 208.8,92.9 211.8,92.0 214.9,92.8 217.9,95.8 220.9,102.7 224.0,108.4 227.0,113.2 230.1,120.4 233.1,126.7 236.2,133.2 239.2,137.4 242.3,139.7 245.3,141.4 248.3,142.9 251.4,143.3 254.4,141.6 257.5,139.6 260.5,133.9 263.6,122.3 266.6,114.1 269.7,107.1 272.7,100.0 275.7,94.7 278.8,91.5 281.8,90.8 284.9,95.6 287.9,95.5 291.0,93.0 294.0,94.4 297.1,93.9 300.1,88.7 303.1,82.6 306.2,81.4 309.2,82.0 312.3,82.9 315.3,84.9 318.4,90.9 321.4,96.8 324.5,104.9 327.5,110.0 330.5,116.9 333.6,125.1 336.6,127.4 339.7,130.3 342.7,133.7 345.8,135.6 348.8,137.3 351.9,140.1 354.9,142.6" fill="none" stroke="#000080" stroke-width="1.2" stroke-opacity="0.36"/>
<g><path d="M52.5 172.7L52.5 178.5L47.4 175.6Z" fill="#000080"/><path d="M55.5 172.8L55.5 178.6L50.4 175.7Z" fill="#000080"/><path d="M58.5 173.4L58.5 179.2L53.4 176.3Z" fill="#000080"/><path d="M61.6 173.8L61.6 179.6L56.5 176.7Z" fill="#000080"/><path d="M64.6 174.0L64.6 179.8L59.5 176.9Z" fill="#000080"/><path d="M67.7 174.1L67.7 179.9L62.6 177.0Z" fill="#000080"/><path d="M70.7 173.9L70.7 179.7L65.6 176.8Z" fill="#000080"/><path d="M73.8 173.9L73.8 179.7L68.7 176.8Z" fill="#000080"/><path d="M76.8 173.7L76.8 179.5L71.7 176.6Z" fill="#000080"/><path d="M79.9 174.2L79.9 180.0L74.8 177.1Z" fill="#000080"/><path d="M82.9 173.9L82.9 179.7L77.8 176.8Z" fill="#000080"/><path d="M85.9 173.4L85.9 179.2L80.8 176.3Z" fill="#000080"/><path d="M89.0 172.9L89.0 178.7L83.9 175.8Z" fill="#000080"/><path d="M92.0 172.4L92.0 178.2L86.9 175.3Z" fill="#000080"/><path d="M95.1 172.1L95.1 177.9L90.0 175.0Z" fill="#000080"/><path d="M98.1 171.5L98.1 177.3L93.0 174.4Z" fill="#000080"/><path d="M101.2 171.6L101.2 177.4L96.1 174.5Z" fill="#000080"/><path d="M104.2 171.5L104.2 177.3L99.1 174.4Z" fill="#000080"/><path d="M107.3 171.7L107.3 177.5L102.2 174.6Z" fill="#000080"/><path d="M110.3 171.1L110.3 176.9L105.2 174.0Z" fill="#000080"/><path d="M113.3 170.3L113.3 176.1L108.2 173.2Z" fill="#000080"/><path d="M116.4 168.8L116.4 174.6L111.3 171.7Z" fill="#000080"/><path d="M119.4 167.0L119.4 172.8L114.3 169.9Z" fill="#000080"/><path d="M122.5 165.3L122.5 171.1L117.4 168.2Z" fill="#000080"/><path d="M125.5 163.2L125.5 169.0L120.4 166.1Z" fill="#000080"/><path d="M128.6 160.8L128.6 166.6L123.5 163.7Z" fill="#000080"/><path d="M131.6 157.9L131.6 163.7L126.5 160.8Z" fill="#000080"/><path d="M134.7 154.8L134.7 160.6L129.6 157.7Z" fill="#000080"/><path d="M137.7 152.1L137.7 157.9L132.6 155.0Z" fill="#000080"/><path d="M140.7 148.9L140.7 154.7L135.6 151.8Z" fill="#000080"/><path d="M143.8 145.8L143.8 151.6L138.7 148.7Z" fill="#000080"/><path d="M146.8 145.4L146.8 151.2L141.7 148.3Z" fill="#000080"/><path d="M149.9 142.4L149.9 148.2L144.8 145.3Z" fill="#000080"/><path d="M152.9 136.1L152.9 141.9L147.8 139.0Z" fill="#000080"/><path d="M156.0 133.2L156.0 139.0L150.9 136.1Z" fill="#000080"/><path d="M159.0 129.8L159.0 135.6L153.9 132.7Z" fill="#000080"/><path d="M162.1 128.7L162.1 134.5L157.0 131.6Z" fill="#000080"/><path d="M165.1 126.1L165.1 131.9L160.0 129.0Z" fill="#000080"/><path d="M168.1 122.7L168.1 128.5L163.0 125.6Z" fill="#000080"/><path d="M171.2 122.0L171.2 127.8L166.1 124.9Z" fill="#000080"/><path d="M174.2 123.2L174.2 129.0L169.1 126.1Z" fill="#000080"/><path d="M177.3 120.2L177.3 126.0L172.2 123.1Z" fill="#000080"/><path d="M180.3 117.0L180.3 122.8L175.2 119.9Z" fill="#000080"/><path d="M183.4 114.3L183.4 120.1L178.3 117.2Z" fill="#000080"/><path d="M186.4 111.2L186.4 117.0L181.3 114.1Z" fill="#000080"/><path d="M189.5 107.9L189.5 113.7L184.4 110.8Z" fill="#000080"/><path d="M192.5 103.7L192.5 109.5L187.4 106.6Z" fill="#000080"/><path d="M195.5 98.4L195.5 104.2L190.4 101.3Z" fill="#000080"/><path d="M198.6 95.0L198.6 100.8L193.5 97.9Z" fill="#000080"/><path d="M201.6 94.0L201.6 99.8L196.5 96.9Z" fill="#000080"/><path d="M204.7 92.8L204.7 98.6L199.6 95.7Z" fill="#000080"/><path d="M207.7 91.7L207.7 97.5L202.6 94.6Z" fill="#000080"/><path d="M210.8 90.0L210.8 95.8L205.7 92.9Z" fill="#000080"/><path d="M213.8 89.1L213.8 94.9L208.7 92.0Z" fill="#000080"/><path d="M216.9 89.9L216.9 95.7L211.8 92.8Z" fill="#000080"/><path d="M219.9 92.9L219.9 98.7L214.8 95.8Z" fill="#000080"/><path d="M222.9 99.8L222.9 105.6L217.8 102.7Z" fill="#000080"/><path d="M226.0 105.5L226.0 111.3L220.9 108.4Z" fill="#000080"/><path d="M229.0 110.3L229.0 116.1L223.9 113.2Z" fill="#000080"/><path d="M232.1 117.5L232.1 123.3L227.0 120.4Z" fill="#000080"/><path d="M235.1 123.8L235.1 129.6L230.0 126.7Z" fill="#000080"/><path d="M238.2 130.3L238.2 136.1L233.1 133.2Z" fill="#000080"/><path d="M241.2 134.5L241.2 140.3L236.1 137.4Z" fill="#000080"/><path d="M244.3 136.8L244.3 142.6L239.2 139.7Z" fill="#000080"/><path d="M247.3 138.5L247.3 144.3L242.2 141.4Z" fill="#000080"/><path d="M250.3 140.0L250.3 145.8L245.2 142.9Z" fill="#000080"/><path d="M253.4 140.4L253.4 146.2L248.3 143.3Z" fill="#000080"/><path d="M256.4 138.7L256.4 144.5L251.3 141.6Z" fill="#000080"/><path d="M259.5 136.7L259.5 142.5L254.4 139.6Z" fill="#000080"/><path d="M262.5 131.0L262.5 136.8L257.4 133.9Z" fill="#000080"/><path d="M265.6 119.4L265.6 125.2L260.5 122.3Z" fill="#000080"/><path d="M268.6 111.2L268.6 117.0L263.5 114.1Z" fill="#000080"/><path d="M271.7 104.2L271.7 110.0L266.6 107.1Z" fill="#000080"/><path d="M274.7 97.1L274.7 102.9L269.6 100.0Z" fill="#000080"/><path d="M277.7 91.8L277.7 97.6L272.6 94.7Z" fill="#000080"/><path d="M280.8 88.6L280.8 94.4L275.7 91.5Z" fill="#000080"/><path d="M283.8 87.9L283.8 93.7L278.7 90.8Z" fill="#000080"/><path d="M286.9 92.7L286.9 98.5L281.8 95.6Z" fill="#000080"/><path d="M289.9 92.6L289.9 98.4L284.8 95.5Z" fill="#000080"/><path d="M293.0 90.1L293.0 95.9L287.9 93.0Z" fill="#000080"/><path d="M296.0 91.5L296.0 97.3L290.9 94.4Z" fill="#000080"/><path d="M299.1 91.0L299.1 96.8L294.0 93.9Z" fill="#000080"/><path d="M302.1 85.8L302.1 91.6L297.0 88.7Z" fill="#000080"/><path d="M305.1 79.7L305.1 85.5L300.0 82.6Z" fill="#000080"/><path d="M308.2 78.5L308.2 84.3L303.1 81.4Z" fill="#000080"/><path d="M311.2 79.1L311.2 84.9L306.1 82.0Z" fill="#000080"/><path d="M314.3 80.0L314.3 85.8L309.2 82.9Z" fill="#000080"/><path d="M317.3 82.0L317.3 87.8L312.2 84.9Z" fill="#000080"/><path d="M320.4 88.0L320.4 93.8L315.3 90.9Z" fill="#000080"/><path d="M323.4 93.9L323.4 99.7L318.3 96.8Z" fill="#000080"/><path d="M326.5 102.0L326.5 107.8L321.4 104.9Z" fill="#000080"/><path d="M329.5 107.1L329.5 112.9L324.4 110.0Z" fill="#000080"/><path d="M332.5 114.0L332.5 119.8L327.4 116.9Z" fill="#000080"/><path d="M335.6 122.2L335.6 128.0L330.5 125.1Z" fill="#000080"/><path d="M338.6 124.5L338.6 130.3L333.5 127.4Z" fill="#000080"/><path d="M341.7 127.4L341.7 133.2L336.6 130.3Z" fill="#000080"/><path d="M344.7 130.8L344.7 136.6L339.6 133.7Z" fill="#000080"/><path d="M347.8 132.7L347.8 138.5L342.7 135.6Z" fill="#000080"/><path d="M350.8 134.4L350.8 140.2L345.7 137.3Z" fill="#000080"/><path d="M353.9 137.2L353.9 143.0L348.8 140.1Z" fill="#000080"/><path d="M356.9 139.7L356.9 145.5L351.8 142.6Z" fill="#000080"/></g>
</g>
<path d="M50.45 1.45H354.9V210.1H50.45Z" fill="none" stroke="#3a3a3a" stroke-width="1.3"/>
<text transform="translate(43.6,186.9) scale(1.15,1)" font-size="9.6" text-anchor="end" fill="#111">0.00</text>
<text transform="translate(43.6,134.8) scale(1.15,1)" font-size="9.6" text-anchor="end" fill="#111">0.01</text>
<text transform="translate(43.6,82.7) scale(1.15,1)" font-size="9.6" text-anchor="end" fill="#111">0.02</text>
<text transform="translate(43.6,30.6) scale(1.15,1)" font-size="9.6" text-anchor="end" fill="#111">0.03</text>
<text transform="translate(108.3,224.2) scale(1.15,1)" font-size="9.6" text-anchor="middle" fill="#111">9</text>
<text transform="translate(180.9,224.2) scale(1.15,1)" font-size="9.6" text-anchor="middle" fill="#111">10</text>
<text transform="translate(253.5,224.2) scale(1.15,1)" font-size="9.6" text-anchor="middle" fill="#111">11</text>
<text transform="translate(326.1,224.2) scale(1.15,1)" font-size="9.6" text-anchor="middle" fill="#111">12</text>
<path d="M50.45 184.1h-4 M50.45 132.0h-4 M50.45 79.9h-4 M50.45 27.8h-4 M50.45 210.2h-2.5 M50.45 158.0h-2.5 M50.45 105.9h-2.5 M50.45 53.8h-2.5 M50.45 1.55h-2.6 M50.45 210.04999999999998h-2.6 M108.3 210.1v4 M180.9 210.1v4 M253.5 210.1v4 M326.1 210.1v4 M72.0 210.1v2.5 M144.6 210.1v2.5 M217.2 210.1v2.5 M289.8 210.1v2.5" stroke="#3a3a3a" stroke-width="1.1" fill="none"/>
<text transform="translate(203,243.2) scale(1.135,1)" font-size="12.6" text-anchor="middle" fill="#111">frequency(GHz)</text>
<text transform="translate(12.7,107.2) rotate(-90)" font-size="14.5" text-anchor="middle" fill="#111">Eddy current loss (nS)</text>
<path d="M59.3 12.9h23.9" stroke="#000000" stroke-width="1.5" stroke-opacity="0.42" fill="none"/>
<rect x="69.1" y="10.9" width="4.0" height="4.0" fill="#000000"/>
<text transform="translate(85.7,15.9) scale(1.15,1)" font-size="9.6" fill="#111">2</text>
<path d="M95.1 12.9h23.9" stroke="#ff0000" stroke-width="1.5" stroke-opacity="0.42" fill="none"/>
<circle cx="106.9" cy="12.9" r="2.3" fill="#ff0000"/>
<text transform="translate(121.5,15.9) scale(1.15,1)" font-size="9.6" fill="#111">4</text>
<path d="M130.6 12.9h23.9" stroke="#0000ff" stroke-width="1.5" stroke-opacity="0.42" fill="none"/>
<path d="M139.7 14.7L145.1 14.7L142.4 9.9Z" fill="#0000ff"/>
<text transform="translate(157.0,15.9) scale(1.15,1)" font-size="9.6" fill="#111">6</text>
<path d="M59.3 25.6h23.9" stroke="#ff00ff" stroke-width="1.5" stroke-opacity="0.42" fill="none"/>
<path d="M68.4 23.8L73.8 23.8L71.1 28.6Z" fill="#ff00ff"/>
<text transform="translate(85.7,28.6) scale(1.15,1)" font-size="9.6" fill="#111">8</text>
<path d="M95.1 25.6h23.9" stroke="#007f00" stroke-width="1.5" stroke-opacity="0.42" fill="none"/>
<path d="M103.9 25.6L106.9 22.6L109.9 25.6L106.9 28.6Z" fill="#007f00"/>
<text transform="translate(121.5,28.6) scale(1.15,1)" font-size="9.6" fill="#111">10</text>
<path d="M136.7 25.6h23.9" stroke="#000080" stroke-width="1.5" stroke-opacity="0.42" fill="none"/>
<path d="M150.5 22.7L150.5 28.5L145.4 25.6Z" fill="#000080"/>
<text transform="translate(163.1,28.6) scale(1.15,1)" font-size="9.6" fill="#111">12</text>
</svg>
</body></html>
